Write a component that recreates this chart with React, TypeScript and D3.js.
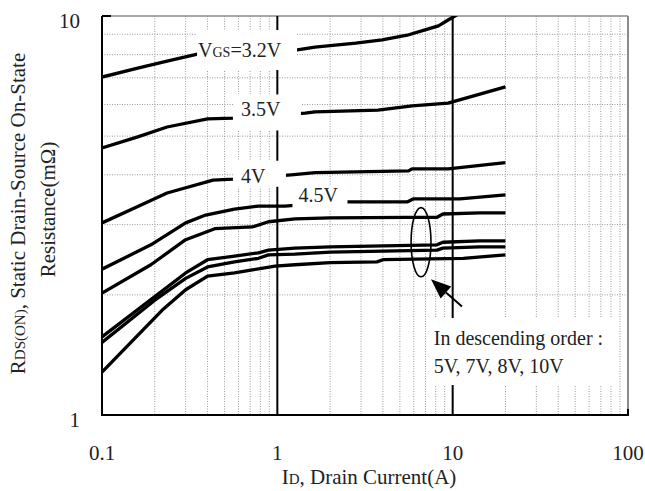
import React from 'react';
import * as d3 from 'd3';

// curve data: [drain current (A), Rds(on) (mΩ)]
const rds32: [number, number][] = [
  [0.1, 7.03], [0.16, 7.4], [0.235, 7.71], [0.35, 8.03], [0.7, 8.12], [1.3, 8.22],
  [1.64, 8.36], [2.8, 8.55], [3.96, 8.71], [5.5, 8.95], [6.96, 9.23], [8.3, 9.45], [9.42, 9.77], [10.7, 10.1],
];
const rds35: [number, number][] = [
  [0.1, 4.67], [0.16, 4.98], [0.235, 5.27], [0.4, 5.52], [0.56, 5.55], [1.44, 5.71], [1.64, 5.75],
  [3.75, 5.81], [5.87, 5.95], [9.42, 6.05], [20, 6.64],
];
const rds4: [number, number][] = [
  [0.1, 3.03], [0.16, 3.33], [0.235, 3.6], [0.43, 3.88], [0.56, 3.9], [1.2, 4.0], [1.64, 4.05],
  [5.6, 4.09], [5.87, 4.14], [9.42, 4.14], [20, 4.29],
];
const rds45: [number, number][] = [
  [0.1, 2.32], [0.19, 2.67], [0.3, 3.03], [0.39, 3.17], [0.57, 3.28], [0.78, 3.34], [1.1, 3.34],
  [2.34, 3.42], [5.5, 3.42], [5.95, 3.48], [11, 3.48], [20, 3.56],
];
const rds5: [number, number][] = [
  [0.1, 2.02], [0.19, 2.38], [0.3, 2.75], [0.44, 2.93], [0.72, 2.96], [0.89, 3.05], [1.26, 3.1],
  [2.0, 3.12], [5.5, 3.13], [8.14, 3.13], [8.8, 3.19], [14.3, 3.21], [20, 3.21],
];
const rds7: [number, number][] = [
  [0.1, 1.57], [0.2, 1.98], [0.3, 2.27], [0.4, 2.45], [0.57, 2.5], [0.78, 2.55], [0.89, 2.59],
  [1.26, 2.62], [2.0, 2.64], [8.14, 2.67], [8.8, 2.71], [14.3, 2.73], [20, 2.73],
];
const rds8: [number, number][] = [
  [0.1, 1.52], [0.2, 1.94], [0.3, 2.2], [0.4, 2.35], [0.57, 2.42], [0.78, 2.47], [0.89, 2.52],
  [1.26, 2.53], [2.0, 2.56], [8.14, 2.59], [8.8, 2.62], [14.3, 2.64], [20, 2.64],
];
const rds10: [number, number][] = [
  [0.1, 1.28], [0.22, 1.83], [0.3, 2.06], [0.4, 2.23], [0.57, 2.27], [0.72, 2.31], [0.97, 2.36],
  [1.26, 2.38], [2.0, 2.41], [3.7, 2.42], [4.0, 2.45], [11.5, 2.47], [20, 2.52],
];
const allCurves = [rds32, rds35, rds4, rds45, rds5, rds7, rds8, rds10];

const xTickLabels = ['0.1', '1', '10', '100'];
const yTickLabels = ['1', '10'];

const W = 645;
const H = 491;
const margin = { top: 16, right: 17, bottom: 76, left: 102 };
const font = '"Liberation Serif", "Times New Roman", serif';

const x = d3.scaleLog().domain([0.1, 100]).range([margin.left, W - margin.right]);
const y = d3.scaleLog().domain([1, 10]).range([H - margin.bottom, margin.top]);

const line = d3
  .line<[number, number]>()
  .x(d => x(d[0]))
  .y(d => y(d[1]));

const minorX = [0.1, 1, 10].flatMap(d => d3.range(2, 10).map(k => k * d));
const minorY = d3.range(2, 10);

export default function App() {
  const [x0, x1] = x.range();
  const [y0, y1] = y.range();

  // boxed labels on the curves: text anchor in data units, box in px relative to anchor
  const labels = [
    { key: '32', I: 0.353, R: 7.89, bx: -1, by: -27, bw: 100, bh: 40 },
    { key: '35', I: 0.62, R: 5.6, bx: -8, by: -22, bw: 68, bh: 36 },
    { key: '4', I: 0.62, R: 3.82, bx: -8, by: -22, bw: 53, bh: 26 },
    { key: '45', I: 1.32, R: 3.42, bx: -6, by: -16, bw: 55, bh: 25 },
  ];

  return (
    <div>
      <style>{'body{margin:0}'}</style>
      <svg width={W} height={H} style={{ display: 'block', background: '#fff' }} fontFamily={font}>
        <defs>
          <clipPath id="plot">
            <rect x={x0} y={y1} width={x1 - x0} height={y0 - y1} />
          </clipPath>
        </defs>

        {/* minor grid */}
        <g stroke="#9a9a9a" strokeWidth={1} strokeDasharray="1,1.5">
          {minorX.map(v => (
            <line key={'gx' + v} x1={x(v)} x2={x(v)} y1={y1} y2={y0} />
          ))}
          {minorY.map(v => (
            <line key={'gy' + v} x1={x0} x2={x1} y1={y(v)} y2={y(v)} />
          ))}
        </g>
        {/* frame top/right */}
        <line x1={x0} x2={x1} y1={y1} y2={y1} stroke="#8a8a8a" strokeWidth={1.5} />
        <line x1={x1} x2={x1} y1={y1} y2={y0} stroke="#8a8a8a" strokeWidth={2} />
        {/* major verticals */}
        {[1, 10].map(v => (
          <line key={'mx' + v} x1={x(v)} x2={x(v)} y1={y1} y2={y0} stroke="#000" strokeWidth={2} />
        ))}

        {/* curves */}
        <g clipPath="url(#plot)" fill="none" stroke="#000" strokeWidth={3.3} strokeLinejoin="round">
          {allCurves.map((c, i) => (
            <path key={i} d={line(c) || ''} />
          ))}
        </g>

        {/* axes */}
        <line x1={x0} x2={x0} y1={y1} y2={y0 + 1} stroke="#000" strokeWidth={2} />
        <line x1={x0 - 1} x2={x1 + 1} y1={y0} y2={y0} stroke="#000" strokeWidth={2} />
        <line x1={x0} x2={x0 + 9} y1={y1} y2={y1} stroke="#000" strokeWidth={2} />
        <line x1={x1} x2={x1} y1={y0 - 6} y2={y0} stroke="#000" strokeWidth={2} />

        {/* tick labels */}
        <g fontSize={21} fill="#222">
          {xTickLabels.map(t => (
            <text key={'xt' + t} x={x(+t)} y={y0 + 45} textAnchor="middle">
              {t}
            </text>
          ))}
          {yTickLabels.map(t => (
            <text key={'yt' + t} x={x0 - 22} y={y(+t) + 12} textAnchor="end">
              {t}
            </text>
          ))}
        </g>

        {/* curve labels */}
        {labels.map(l => {
          const lx = x(l.I);
          const ly = y(l.R);
          return (
            <g key={l.key}>
              <rect x={lx + l.bx} y={ly + l.by} width={l.bw} height={l.bh} fill="#fff" />
              <text x={lx} y={ly} fontSize={20} fill="#222">
                {l.key === '32' ? (
                  <>
                    <tspan>V</tspan>
                    <tspan fontSize={14}>GS</tspan>
                    <tspan>=3.2V</tspan>
                  </>
                ) : l.key === '35' ? '3.5V' : l.key === '4' ? '4V' : '4.5V'}
              </text>
            </g>
          );
        })}

        {/* ellipse + arrow annotation */}
        <ellipse
          cx={x(6.6)}
          cy={(y(2.22) + y(3.31)) / 2}
          rx={(x(7.52) - x(5.79)) / 2}
          ry={(y(2.22) - y(3.31)) / 2}
          fill="none"
          stroke="#000"
          strokeWidth={1.6}
        />
        {(() => {
          const sx = x(11.3), sy = y(1.87), tx = x(7.52), ty = y(2.19);
          const ang = Math.atan2(ty - sy, tx - sx);
          const hl = 20, hw = 8;
          const bx = tx - hl * Math.cos(ang), by = ty - hl * Math.sin(ang);
          const px = -Math.sin(ang) * hw, py = Math.cos(ang) * hw;
          return (
            <g>
              <line x1={sx} y1={sy} x2={bx} y2={by} stroke="#000" strokeWidth={2} />
              <path d={`M${tx},${ty}L${bx + px},${by + py}L${bx - px},${by - py}Z`} fill="#000" />
            </g>
          );
        })()}
        <rect x={x(7.75)} y={y(1.75)} width={185} height={67} fill="#fff" />
        <text x={x(7.8)} y={y(1.75) + 27} fontSize={20} fill="#222">
          In descending order :
        </text>
        <text x={x(7.8)} y={y(1.75) + 55} fontSize={20} fill="#222">
          5V, 7V, 8V, 10V
        </text>

        {/* axis titles */}
        <text x={(x0 + x1) / 2 + 4} y={y0 + 69} textAnchor="middle" fontSize={21} fill="#222">
          <tspan>I</tspan>
          <tspan fontSize={15}>D</tspan>
          <tspan>, Drain Current(A)</tspan>
        </text>
        <g fontSize={21} fill="#222">
          <text transform={`translate(25,${(y0 + y1) / 2 - 2}) rotate(-90)`} textAnchor="middle">
            <tspan>R</tspan>
            <tspan fontSize={15}>DS(ON)</tspan>
            <tspan>, Static Drain-Source On-State</tspan>
          </text>
          <text transform={`translate(55,${(y0 + y1) / 2 - 6}) rotate(-90)`} textAnchor="middle">
            Resistance(mΩ)
          </text>
        </g>
      </svg>
    </div>
  );
}
